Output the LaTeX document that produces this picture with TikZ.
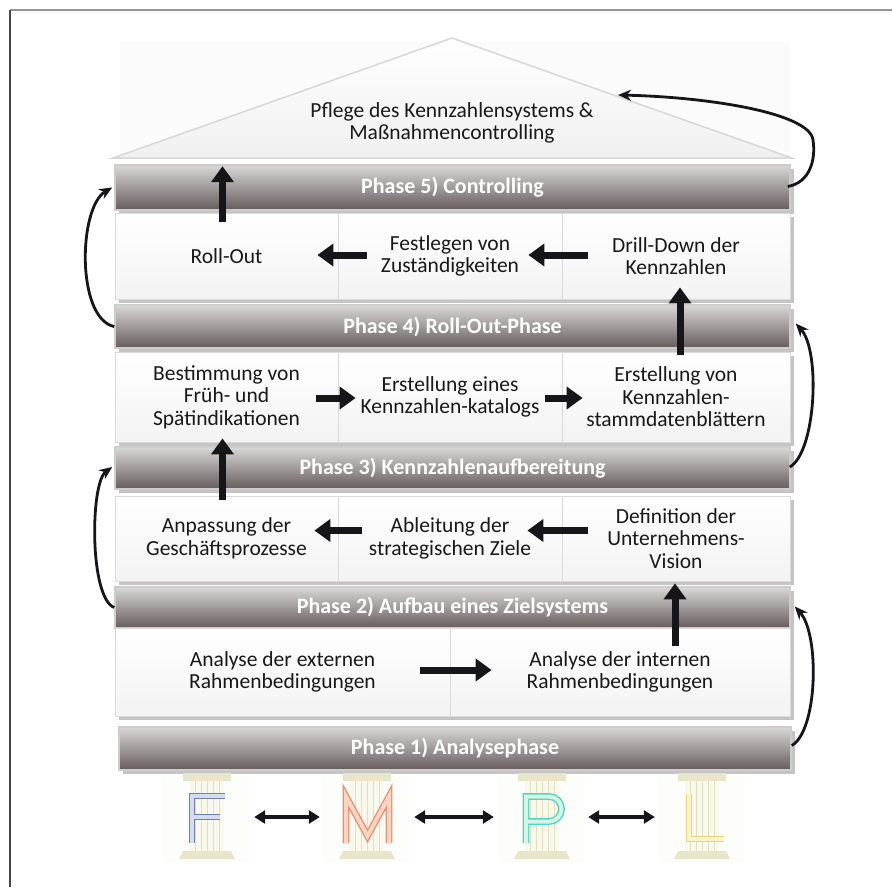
\documentclass[tikz,border=0pt]{standalone}
\usepackage{fontspec}
\setmainfont{Carlito}
\usetikzlibrary{arrows.meta,calc}
\definecolor{barTop}{RGB}{218,215,215}
\definecolor{barBot}{RGB}{102,92,92}
\definecolor{barEdge}{RGB}{205,205,205}
\definecolor{boxEdge}{RGB}{218,218,218}
\definecolor{boxBot}{RGB}{243,243,243}
\definecolor{shadowGray}{RGB}{196,196,196}
\definecolor{roofEdge}{RGB}{215,215,215}
\definecolor{frameTop}{RGB}{150,150,150}
\definecolor{frameLeft}{RGB}{70,70,70}
\definecolor{arrowBlack}{RGB}{22,22,26}
\definecolor{capCol}{RGB}{232,229,202}
\definecolor{shaftCol}{RGB}{249,248,236}
\definecolor{fluteCol}{RGB}{228,225,192}
\definecolor{pillarBg}{RGB}{253,253,250}
\definecolor{Fout}{RGB}{110,128,175}
\definecolor{Fin}{RGB}{212,220,240}
\definecolor{Mout}{RGB}{232,145,115}
\definecolor{Min}{RGB}{250,214,194}
\definecolor{Pout}{RGB}{80,212,200}
\definecolor{Pin}{RGB}{212,244,228}
\definecolor{Lout}{RGB}{234,212,130}
\definecolor{Lin}{RGB}{250,243,204}
\begin{document}
\begin{tikzpicture}[x=1pt,y=-1pt,
  boxfont/.style={font=\fontsize{21.5}{22.5}\selectfont},
  shadowed/.style={preaction={fill=shadowGray,draw=none,transform canvas={xshift=4pt,yshift=-4pt}}},
  phasebar/.style={shadowed,draw=barEdge,line width=1.6pt,top color=barTop,bottom color=barBot,
    inner sep=0pt,minimum width=675pt,text=white,font=\bfseries\fontsize{22}{22}\selectfont},
  stepbox/.style={shadowed,draw=boxEdge,line width=0.8pt,top color=white,bottom color=boxBot,
    inner sep=0pt,align=center,text=black!90,boxfont},
  pillarbox/.style={inner sep=0pt,minimum width=94pt,minimum height=60pt},
  bigarrow/.style={draw=arrowBlack,line width=7pt,-{Triangle[length=16pt,width=22pt]}},
  dblarrow/.style={draw=arrowBlack,line width=4pt,{Triangle[length=11pt,width=13pt]}-{Triangle[length=11pt,width=13pt]}},
  cyclearrow/.style={draw=arrowBlack,line width=2.8pt,-{Stealth[length=13pt,width=11pt]}},
  letterstroke/.style={line width=1.4pt,double distance=4pt,line join=miter}
]
\useasboundingbox (0,0) rectangle (892,887);
\fill[white] (0,0) rectangle (892,887);
% outer frame lines
\draw[frameTop,line width=1.4pt] (10,10) -- (892,10);
\draw[frameLeft,line width=1.4pt] (10,10) -- (10,887);

% roof
\fill[black!1.5] (120,42) rectangle (790,152);
\draw[roofEdge,line width=1.5pt,top color=white,bottom color=black!6] (113,158) -- (452,38) -- (792,158) -- cycle;
\node[boxfont,align=center,text=black!90] (roof) at (452,123) {Pflege des Kennzahlensystems \&\\Maßnahmencontrolling};
\coordinate (roofpt) at (618,95);

% phase bars
\node[phasebar,minimum height=45pt] (p5) at (452.5,187.5) {Phase 5) Controlling};
\node[phasebar,minimum height=43pt] (p4) at (452.5,326.5) {Phase 4) Roll-Out-Phase};
\node[phasebar,minimum height=42pt] (p3) at (452.5,468) {Phase 3) Kennzahlenaufbereitung};
\node[phasebar,minimum height=41pt] (p2) at (452.5,607.5) {Phase 2) Aufbau eines Zielsystems};
\node[phasebar,minimum height=43pt,minimum width=672pt] (p1) at (455,748.5) {Phase 1) Analysephase};

% phase 5 steps
\node[stepbox,minimum width=223pt,minimum height=86pt] (r5a) at (226.5,256) {Roll-Out};
\node[stepbox,minimum width=224pt,minimum height=86pt] (r5b) at (450,256) {Festlegen von\\Zuständigkeiten};
\node[stepbox,minimum width=228pt,minimum height=86pt] (r5c) at (676,256) {Drill-Down der\\Kennzahlen};
% phase 4 steps
\node[stepbox,minimum width=223pt,minimum height=90pt] (r4a) at (226.5,397) {Bestimmung von\\Früh- und\\Spätindikationen};
\node[stepbox,minimum width=224pt,minimum height=90pt] (r4b) at (450,397) {Erstellung eines\\Kennzahlen-katalogs};
\node[stepbox,minimum width=228pt,minimum height=90pt] (r4c) at (676,397) {Erstellung von\\Kennzahlen-\\stammdatenblättern};
% phase 3 steps
\node[stepbox,minimum width=223pt,minimum height=85pt] (r3a) at (226.5,538.5) {Anpassung der\\Geschäftsprozesse};
\node[stepbox,minimum width=224pt,minimum height=85pt] (r3b) at (450,538.5) {Ableitung der\\strategischen Ziele};
\node[stepbox,minimum width=228pt,minimum height=85pt] (r3c) at (676,538.5) {Definition der\\Unternehmens-\\Vision};
% phase 2 steps
\node[stepbox,minimum width=335pt,minimum height=88pt] (r2a) at (282.5,672) {Analyse der externen\\Rahmenbedingungen};
\node[stepbox,minimum width=340pt,minimum height=88pt] (r2b) at (620,672) {Analyse der internen\\Rahmenbedingungen};

% flow inside the house
\draw[bigarrow] ($(r2a.east)+(-30,-2)$) -- ($(r2b.west)+(42,-2)$);
\draw[bigarrow] ($(r2b.north)+(55,18)$) -- ($(r3c.south)+(-1,2)$);
\draw[bigarrow] ($(r3c.west)+(26,-8)$) -- ($(r3b.east)+(-35,-8)$);
\draw[bigarrow] ($(r3b.west)+(24,-8)$) -- ($(r3a.east)+(-24,-8)$);
\draw[bigarrow] ($(r3a.north)+(-4,4)$) -- ($(r4a.south)+(-4,-4)$);
\draw[bigarrow] ($(r4a.east)+(-22,1)$) -- ($(r4b.west)+(18,1)$);
\draw[bigarrow] ($(r4b.east)+(-17,1)$) -- ($(r4c.west)+(21,1)$);
\draw[bigarrow] ($(r4c.north)+(4,3)$) -- ($(r5c.south)+(4,-12)$);
\draw[bigarrow] ($(r5c.west)+(26,-1)$) -- ($(r5b.east)+(-34,-1)$);
\draw[bigarrow] ($(r5b.west)+(29,-1)$) -- ($(r5a.east)+(-21,-1)$);
\draw[bigarrow] ($(r5a.north)+(-4,9)$) -- ($(p5.north)+(-230,2)$);

% cycle arrows between the phases
\draw[cyclearrow] ($(p1.east)+(0,-3)$) .. controls +(26,-15) and +(25,28) .. ($(p2.east)+(4,-1)$);
\draw[cyclearrow] ($(p2.west)+(0,0)$) .. controls +(-25,-10) and +(-22,16) .. ($(p3.west)+(-2,-1)$);
\draw[cyclearrow] ($(p3.east)+(-1,-1)$) .. controls +(26,-15) and +(25,28) .. ($(p4.east)+(5,-3)$);
\draw[cyclearrow] ($(p4.west)+(0,0)$) .. controls +(-38,-8) and +(-34,20) .. ($(p5.west)+(-2,0)$);
\draw[cyclearrow] ($(p5.east)+(-3,-1)$) .. controls +(22,-4) and +(3,20) .. (813,140) .. controls +(-3,-27) and +(90,2) .. (roofpt);

% pillars
\foreach \c in {207,367,542,702} {
  \fill[pillarBg] (\c-45,776) rectangle (\c+42,862);
  \fill[capCol] (\c-24,773) rectangle (\c+24,781);
  \fill[shaftCol] (\c-17,781) rectangle (\c+17,851);
  \foreach \d in {-12,-6,0,6,12} \draw[fluteCol,line width=0.8pt] (\c+\d,781) -- (\c+\d,851);
  \fill[capCol] (\c-24,851) -- (\c+24,851) -- (\c+28,859) -- (\c-28,859) -- cycle;
}
\draw[letterstroke,draw=Fout,double=Fin] (192,843) -- (192,796) -- (225,796) (192,817) -- (220,817);
\draw[letterstroke,draw=Mout,double=Min] (346,843) -- (346,796.5) -- (367.5,836) -- (389,796.5) -- (389,843);
\draw[letterstroke,draw=Pout,double=Pin] (526,843) -- (526,796.5) -- (549,796.5) arc[start angle=-90,end angle=90,radius=12.5] -- (526,821.5);
\draw[letterstroke,draw=Lout,double=Lin] (689,794) -- (689,839) -- (724,839);
\node[pillarbox] (pF) at (207,817) {};
\node[pillarbox] (pM) at (367,817) {};
\node[pillarbox] (pP) at (541,817) {};
\node[pillarbox] (pL) at (702,817) {};
\draw[dblarrow] (pF) -- (pM);
\draw[dblarrow] (pM) -- (pP);
\draw[dblarrow] (pP) -- (pL);
\end{tikzpicture}
\end{document}
